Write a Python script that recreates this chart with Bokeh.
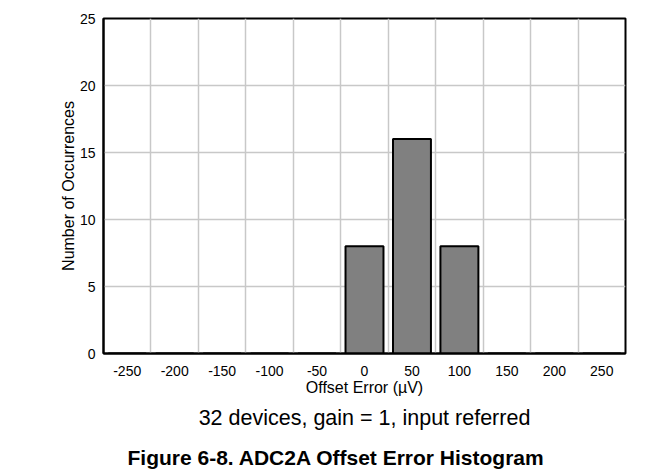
from bokeh.plotting import figure
from bokeh.models import FixedTicker, Title, Range1d
from bokeh.embed import file_html
from bokeh.resources import INLINE

offset_uv = [-250, -200, -150, -100, -50, 0, 50, 100, 150, 200, 250]
occurrences = [0, 0, 0, 0, 0, 8, 16, 8, 0, 0, 0]
y_ticks = [0, 5, 10, 15, 20, 25]
x_label = "Offset Error (\u00b5V)"
y_label = "Number of Occurrences"
caption = "32 devices, gain = 1, input referred"
fig_title = "Figure 6-8. ADC2A Offset Error Histogram"

FONT = "Liberation Sans"

p = figure(width=665, height=476, output_backend="svg", toolbar_location=None,
           x_range=Range1d(-275, 275), y_range=Range1d(0, 25),
           min_border_left=103, min_border_right=40, min_border_top=18, min_border_bottom=122)

p.vbar(x=offset_uv, top=occurrences, width=40, fill_color="#808080",
       line_color="black", line_width=2)

p.xaxis.ticker = FixedTicker(ticks=offset_uv)
p.xaxis.major_label_overrides = {v: str(v) for v in offset_uv}
p.yaxis.ticker = FixedTicker(ticks=y_ticks)
p.xgrid.ticker = FixedTicker(ticks=[v + 25 for v in offset_uv[:-1]])
for g in (p.xgrid, p.ygrid):
    g.grid_line_color = "#c8c8c8"
    g.grid_line_width = 1.5

for ax in (p.xaxis, p.yaxis):
    ax.axis_line_color = "black"
    ax.axis_line_width = 2
    ax.major_tick_line_color = None
    ax.minor_tick_line_color = None
    ax.major_label_text_font = FONT
    ax.major_label_text_font_size = "14px"
    ax.major_label_text_color = "black"
    ax.axis_label_text_font = FONT
    ax.axis_label_text_font_size = "16px"
    ax.axis_label_text_font_style = "normal"
    ax.axis_label_text_color = "black"
p.xaxis.axis_label = x_label
p.yaxis.axis_label = y_label
p.xaxis.major_label_standoff = 6
p.xaxis.axis_label_standoff = 0
p.yaxis.major_label_standoff = 2
p.yaxis.axis_label_standoff = 0

p.outline_line_color = "black"
p.outline_line_width = 2

t1 = Title(text=caption, align="center", text_font=FONT, text_font_size="21.5px",
           text_font_style="normal", text_color="black", standoff=11)
t2 = Title(text=fig_title, align="left", text_font=FONT, text_font_size="21px",
           text_font_style="bold", text_color="black", standoff=16, offset=24)
p.add_layout(t1, "below")
p.add_layout(t2, "below")

open("out.html", "w").write(file_html(p, INLINE))
